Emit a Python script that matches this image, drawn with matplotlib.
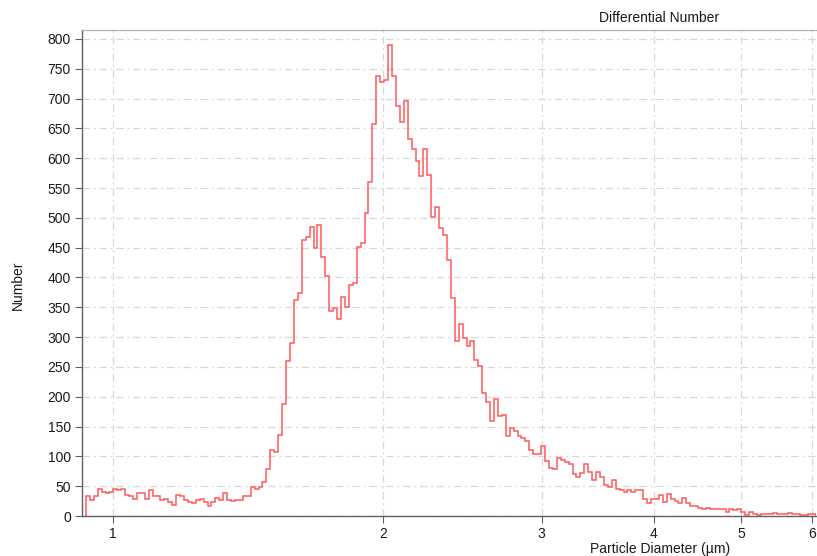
import numpy as np
import matplotlib
matplotlib.use("Agg")
import matplotlib.pyplot as plt
from matplotlib.ticker import FixedLocator, FixedFormatter, NullLocator

# ---- data ----
d_min = 0.9333   # first bin edge (µm)
d_max = 6.057    # last bin edge (µm)

counts_low = [33, 26, 33, 45, 41, 39, 41, 46, 43, 45, 36, 33, 29, 38, 38, 28, 43, 33, 33, 27,
              29, 24, 18, 36, 33, 26, 23, 21, 26, 29, 24, 17, 23, 30, 26, 38, 26, 25, 27, 26,
              34, 33, 49, 45, 49, 57, 79, 110, 108, 136]
counts_peak1 = [187, 260, 290, 363, 374, 463, 468, 484, 449, 488, 434, 403, 343, 348, 331,
                368, 351, 388, 390, 451, 457, 508]
counts_peak2 = [560, 658, 738, 728, 731, 790, 738, 687, 661, 696, 633, 616, 596, 570, 615,
                572, 502, 518, 483, 471, 430, 365, 294, 322]
counts_fall = [299, 285, 293, 261, 252, 207, 192, 160, 197, 168, 169, 134, 148, 143, 134,
               131, 126, 110, 104, 104, 117, 92, 81, 78, 98]
counts_tail = [94, 91, 88, 70, 66, 72, 88, 74, 61, 74, 65, 52, 49, 60, 46, 43, 40, 44, 40, 43,
               43, 29, 22, 28, 28, 35, 24, 37, 28, 25, 22, 31, 21, 16, 16, 14, 12, 14, 12, 12,
               12, 11, 7, 11, 10, 12, 7, 1, 7, 4, 1, 3, 3, 4, 5, 4, 3, 4, 5, 4,
               3, 1, 1, 3, 4]

x_ticks = [1, 2, 3, 4, 5, 6]
x_tick_labels = ["1", "2", "3", "4", "5", "6"]
y_ticks = list(range(0, 801, 50))

counts = np.array(counts_low + counts_peak1 + counts_peak2 + counts_fall + counts_tail, float)
edges = np.geomspace(d_min, d_max, len(counts) + 1)

# ---- figure ----
plt.rcParams['font.family'] = ['Liberation Sans', 'DejaVu Sans']
fig = plt.figure(figsize=(8.17, 5.56), dpi=100)
ax = fig.add_axes([82 / 817, 40 / 556, (816 - 82) / 817, (516 - 30) / 556])

ax.set_xscale('log')
ax.set_xlim(0.924, 6.06)
ax.set_ylim(0, 815)

ax.stairs(counts, edges, color='#ff5a5a', linewidth=1.1, baseline=0)

ax.xaxis.set_major_locator(FixedLocator(x_ticks))
ax.xaxis.set_major_formatter(FixedFormatter(x_tick_labels))
ax.xaxis.set_minor_locator(NullLocator())
ax.set_yticks(y_ticks)

ax.grid(True, which='major', color='#d8d8d8', linestyle='-.', linewidth=0.9, dashes=(6, 3, 1.5, 3))
ax.set_axisbelow(True)

for s in ['left', 'bottom']:
    ax.spines[s].set_color('#606060')
    ax.spines[s].set_linewidth(1.0)
ax.spines['top'].set_color('#b0b0b0')
ax.spines['top'].set_linewidth(0.9)
ax.spines['right'].set_visible(False)

ax.tick_params(axis='both', which='major', direction='out', length=5, width=0.8,
               color='#606060', labelsize=10, labelcolor='#1a1a1a', pad=3)

fig.text(18 / 817, 1 - 285 / 556, "Number", rotation=90, ha='center', va='center',
         fontsize=10, color='#1a1a1a')
fig.text(660 / 817, 1 - 549 / 556, "Particle Diameter (µm)", ha='center', va='center',
         fontsize=10, color='#1a1a1a')
fig.text(659 / 817, 1 - 18 / 556, "Differential Number", ha='center', va='center',
         fontsize=10, color='#1a1a1a')

fig.savefig("out.png", dpi=100)
